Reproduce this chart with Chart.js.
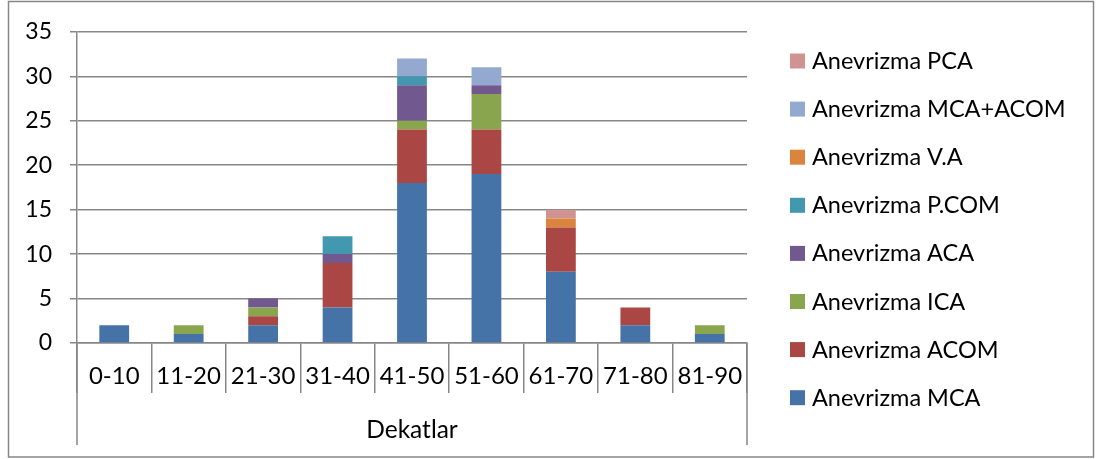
<!DOCTYPE html>
<html>
<head>
<meta charset="utf-8">
<script src="https://cdn.jsdelivr.net/npm/chart.js@4.4.1/dist/chart.umd.min.js"></script>
<style>
  html, body { margin: 0; padding: 0; background: #fff; }
  #wrap { width: 1096px; height: 459px; position: relative; }
</style>
</head>
<body>
<div id="wrap"><canvas id="c" width="1096" height="459"></canvas></div>
<script>
// Age decades (x categories)
const categories = ['0-10', '11-20', '21-30', '31-40', '41-50', '51-60', '61-70', '71-80', '81-90'];

// Aneurysm counts per decade, one array per location
const mca      = [2, 1, 2, 4, 18, 19, 8, 2, 1];
const acom     = [0, 0, 1, 5, 6, 5, 5, 2, 0];
const ica      = [0, 1, 1, 0, 1, 4, 0, 0, 1];
const aca      = [0, 0, 1, 1, 4, 1, 0, 0, 0];
const pcom     = [0, 0, 0, 2, 1, 0, 0, 0, 0];
const va       = [0, 0, 0, 0, 0, 0, 1, 0, 0];
const mcaAcom  = [0, 0, 0, 0, 2, 2, 0, 0, 0];
const pca      = [0, 0, 0, 0, 0, 0, 1, 0, 0];

const seriesNames = ['Anevrizma MCA', 'Anevrizma ACOM', 'Anevrizma ICA', 'Anevrizma ACA',
                     'Anevrizma P.COM', 'Anevrizma V.A', 'Anevrizma MCA+ACOM', 'Anevrizma PCA'];
const seriesColors = ['#4572A7', '#AA4643', '#89A54E', '#71588F', '#4198AF', '#DB843D', '#93A9CF', '#D19392'];
const seriesValues = [mca, acom, ica, aca, pcom, va, mcaAcom, pca];

const yTicks = [0, 5, 10, 15, 20, 25, 30, 35];
const axisTitle = 'Dekatlar';

const FONT = 'Lato, "Liberation Sans", sans-serif';
const LINE = '#878787';

// Frame, multi-level axis lines, axis title and right-hand legend
const decorations = {
  id: 'decorations',
  beforeDraw(chart) {
    const ctx = chart.ctx;
    ctx.save();
    ctx.fillStyle = '#fff';
    ctx.fillRect(0, 0, chart.width, chart.height);
    ctx.strokeStyle = LINE;
    ctx.lineWidth = 1.5;
    ctx.strokeRect(8.5, 1.5, 1085, 455.5);
    ctx.restore();
  },
  afterDraw(chart) {
    const ctx = chart.ctx;
    const area = chart.chartArea;
    ctx.save();
    // outer lines of the grouped category axis
    ctx.strokeStyle = LINE;
    ctx.lineWidth = 1.5;
    ctx.beginPath();
    ctx.moveTo(area.left, area.bottom);
    ctx.lineTo(area.left, 445);
    ctx.moveTo(area.right, area.bottom);
    ctx.lineTo(area.right, 445);
    ctx.stroke();
    // group title
    ctx.fillStyle = '#000';
    ctx.font = '24.5px ' + FONT;
    ctx.textAlign = 'center';
    ctx.textBaseline = 'middle';
    ctx.fillText(axisTitle, (area.left + area.right) / 2, 430);
    // legend, top entry is the last series
    const ds = chart.data.datasets;
    ctx.font = '23.5px ' + FONT;
    ctx.textAlign = 'left';
    for (let i = ds.length - 1, row = 0; i >= 0; i--, row++) {
      const cy = 61 + row * 48.1;
      ctx.fillStyle = ds[i].backgroundColor;
      ctx.fillRect(790, cy - 7.5, 15, 15);
      ctx.fillStyle = '#000';
      ctx.fillText(ds[i].label, 812, cy + 0.5);
    }
    ctx.restore();
  }
};

new Chart(document.getElementById('c'), {
  type: 'bar',
  data: {
    labels: categories,
    datasets: seriesNames.map((name, i) => ({
      label: name,
      data: seriesValues[i],
      backgroundColor: seriesColors[i],
      borderWidth: 0,
      categoryPercentage: 1,
      barPercentage: 0.4
    }))
  },
  options: {
    responsive: false,
    animation: false,
    devicePixelRatio: 1,
    layout: { padding: { left: 0, top: 30, right: 349, bottom: 0 } },
    plugins: { legend: { display: false }, tooltip: { enabled: false } },
    scales: {
      x: {
        stacked: true,
        afterFit(scale) { scale.height = 116; },
        grid: { offset: true, drawOnChartArea: false, drawTicks: true, tickLength: 50, color: LINE, lineWidth: 1.5 },
        border: { display: true, color: LINE, width: 1.5 },
        ticks: { color: '#000', font: { family: FONT, size: 24 }, padding: -31, maxRotation: 0, autoSkip: false }
      },
      y: {
        stacked: true,
        min: 0,
        max: 35,
        afterFit(scale) { scale.width = 77; },
        afterBuildTicks(scale) { scale.ticks = yTicks.map(v => ({ value: v })); },
        grid: { color: LINE, lineWidth: 1.5, tickLength: 7 },
        border: { display: true, color: LINE, width: 1.5 },
        ticks: { color: '#000', font: { family: FONT, size: 23 }, padding: 18 }
      }
    }
  },
  plugins: [decorations]
});
</script>
</body>
</html>
